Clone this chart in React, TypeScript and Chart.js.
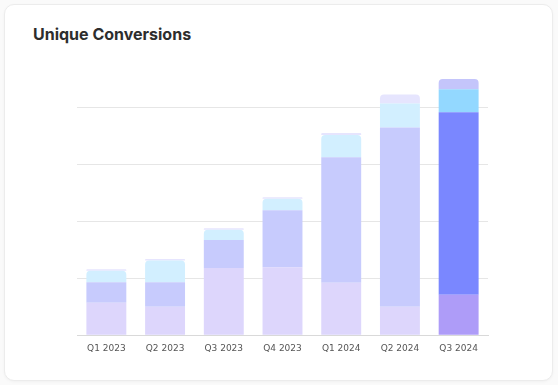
import React, { useEffect, useRef } from "react";
import { Chart, registerables } from "chart.js";

Chart.register(...registerables);

const categories = ["Q1 2023", "Q2 2023", "Q3 2023", "Q4 2023", "Q1 2024", "Q2 2024", "Q3 2024"];
const seriesA = [570, 500, 1180, 1190, 920, 500, 710];
const seriesB = [360, 430, 490, 1000, 2200, 3140, 3200];
const seriesC = [200, 380, 180, 200, 390, 420, 400];
const seriesD = [25, 25, 25, 30, 35, 160, 180];
const axisMax = 5000;
const axisStep = 1000;
const highlightIndex = 6;

const fullColors = ["#ae9cf8", "#7a87ff", "#93d8ff", "#c4c5fb"];
const fadedColors = ["#ddd6fc", "#c7cbfd", "#d2efff", "#e6e5fe"];

export default function App() {
  const ref = useRef<HTMLCanvasElement>(null);
  useEffect(() => {
    const series = [seriesA, seriesB, seriesC, seriesD];
    const chart = new Chart(ref.current!, {
      type: "bar",
      data: {
        labels: categories,
        datasets: series.map((d, si) => ({
          label: "s" + si,
          data: d,
          backgroundColor: d.map((_, i) => (i === highlightIndex ? fullColors[si] : fadedColors[si])),
          borderWidth: 0,
          borderSkipped: false,
          borderRadius: (ctx: any) => {
            if (si === 3) return { topLeft: 4, topRight: 4, bottomLeft: 0, bottomRight: 0 };
            if (si === 2 && seriesD[ctx.dataIndex] < 60)
              return { topLeft: 4, topRight: 4, bottomLeft: 0, bottomRight: 0 };
            return 0;
          },
          barPercentage: 0.85,
          categoryPercentage: 0.8,
        })),
      },
      options: {
        responsive: false,
        animation: false,
        layout: { padding: { left: 77, right: 70, top: 50, bottom: 23 } },
        plugins: { legend: { display: false }, tooltip: { enabled: false }, title: { display: false } },
        scales: {
          x: {
            stacked: true,
            grid: { display: false, drawTicks: false },
            border: { display: true, color: "#d9d9d9" },
            ticks: { padding: 8, color: "#555", font: { family: "DejaVu Sans", size: 9 } },
          },
          y: {
            stacked: true,
            display: true,
            min: 0,
            max: axisMax,
            border: { display: false },
            grid: {
              display: true,
              drawTicks: false,
              color: (ctx: any) =>
                ctx.tick && ctx.tick.value >= axisMax ? "rgba(0,0,0,0)" : "#e6e6e6",
            },
            ticks: { display: false, stepSize: axisStep },
          },
        },
      },
    });
    return () => chart.destroy();
  }, []);

  return (
    <div style={{ position: "fixed", left: 0, top: 0, width: 558, height: 385, background: "#fafafa" }}>
      <div
        style={{
          position: "absolute",
          left: 4,
          top: 4,
          width: 547,
          height: 375,
          background: "#fff",
          border: "1px solid #ececec",
          borderRadius: 10,
          boxShadow: "0 1px 3px rgba(0,0,0,0.04)",
        }}
      />
      <div
        style={{
          position: "absolute",
          left: 33,
          top: 24,
          fontFamily: "Inter, 'Noto Sans', sans-serif",
          fontWeight: 700,
          fontSize: 16,
          color: "#2d2d2d",
          lineHeight: "20px",
        }}
      >
        Unique Conversions
      </div>
      <canvas ref={ref} width={558} height={385} style={{ position: "absolute", left: 0, top: 0 }} />
    </div>
  );
}
